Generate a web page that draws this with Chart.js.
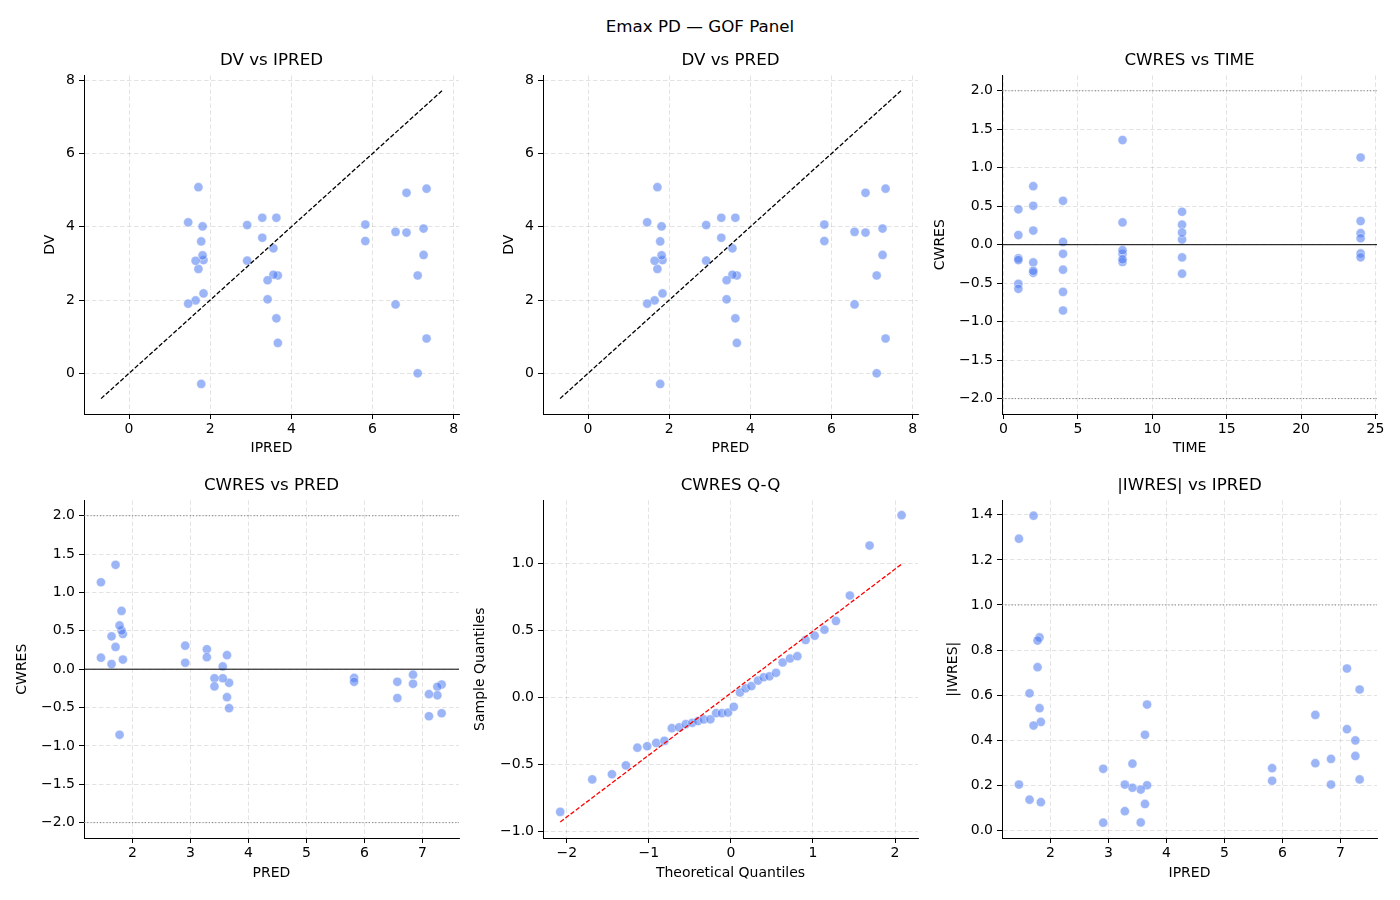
<!DOCTYPE html>
<html>
<head>
<meta charset="utf-8">
<script src="https://cdn.jsdelivr.net/npm/chart.js@4.4.1/dist/chart.umd.min.js"></script>
<style>
body { margin: 0; background: #fff; }
#fig { position: relative; width: 1400px; height: 900px; font-family: "DejaVu Sans", sans-serif; overflow: hidden; }
.ttl { position: absolute; font-size: 16.7px; white-space: nowrap; transform: translate(-50%, -50%); color: #000; }
canvas { position: absolute; }
</style>
</head>
<body>
<div id="fig"></div>
<script>
// observations: 3 dose groups x 6 times x 2 subjects
const TIME = [1,1, 2,2, 4,4, 8,8, 12,12, 24,24,
              1,1, 2,2, 4,4, 8,8, 12,12, 24,24,
              1,1, 2,2, 4,4, 8,8, 12,12, 24,24];
const PRED = [1.835,1.835, 1.812,1.812, 1.778,1.778, 1.709,1.709, 1.640,1.640, 1.457,1.457,
              3.666,3.666, 3.630,3.630, 3.557,3.557, 3.414,3.414, 3.283,3.283, 2.910,2.910,
              7.331,7.331, 7.257,7.257, 7.112,7.112, 6.837,6.837, 6.567,6.567, 5.822,5.822];
const IPRED = PRED.slice(); // IPRED sits on PRED in this plot
const DV = [3.09,2.18, 4.01,3.22, 3.60,-0.29, 5.08,2.85, 3.07,1.99, 4.12,1.90,
            2.67,0.83, 4.245,1.50, 3.41,2.69, 2.54,2.02, 4.245,3.70, 4.045,3.075,
            5.04,0.95, 3.95,3.23, 2.67,0.00, 4.925,3.84, 3.86,1.88, 4.06,3.61];
const CWRES = [0.46,0.125, 0.76,0.505, 0.57,-0.855, 1.36,0.29, 0.428,0.067, 1.133,0.15,
               -0.177,-0.508, 0.183,-0.365, 0.036,-0.118, -0.118,-0.224, 0.26,0.157, 0.307,0.084,
               -0.20,-0.574, -0.23,-0.34, -0.325,-0.613, -0.071,-0.19, -0.165,-0.376, -0.114,-0.164];
const IWRES_ABS = [0.481,0.125, 0.856,0.542, 0.724,0.842, 1.396,0.465, 0.608,0.136, 1.294,0.203,
                   0.200,0.558, 0.117,0.424, 0.035,0.181, 0.189,0.296, 0.203,0.085, 0.273,0.034,
                   0.226,0.625, 0.330,0.399, 0.449,0.718, 0.203,0.317, 0.298,0.512, 0.220,0.276];
const QQ_THEO = [-2.08,-1.69,-1.45,-1.28,-1.14,-1.02,-0.91,-0.81,-0.72,-0.63,-0.55,-0.47,
                 -0.40,-0.33,-0.25,-0.18,-0.11,-0.035,0.035,0.11,0.18,0.25,0.33,0.40,
                 0.47,0.55,0.63,0.72,0.81,0.91,1.02,1.14,1.28,1.45,1.69,2.08];
const IDENTITY = [-0.69, 7.71];

const TICKS_DV = [0, 2, 4, 6, 8];
const TICKS_TIME = [0, 5, 10, 15, 20, 25];
const TICKS_CWRES = [-2, -1.5, -1, -0.5, 0, 0.5, 1, 1.5, 2];
const TICKS_PRED = [2, 3, 4, 5, 6, 7];
const TICKS_QQX = [-2, -1, 0, 1, 2];
const TICKS_QQY = [-1, -0.5, 0, 0.5, 1];
const TICKS_IWRES = [0, 0.2, 0.4, 0.6, 0.8, 1, 1.2, 1.4];

Chart.defaults.font.family = '"DejaVu Sans", sans-serif';
Chart.defaults.font.size = 14;
Chart.defaults.color = '#000';

const fig = document.getElementById('fig');
const PT_FILL = 'rgba(75,120,240,0.55)';

function addTitle(text, x, y) {
    const d = document.createElement('div');
    d.className = 'ttl';
    d.textContent = text;
    d.style.left = x + 'px';
    d.style.top = y + 'px';
    fig.appendChild(d);
}

function fmt(v, dec) {
    return v.toFixed(dec).replace('-', '\u2212');
}

function axis(pos, lim, ticks, dec, label, size) {
    return {
        type: 'linear', position: pos, min: lim[0], max: lim[1],
        afterBuildTicks: s => { s.ticks = ticks.map(v => ({value: v})); },
        afterFit: s => { if (pos === 'left') s.width = size; else s.height = size; },
        ticks: { padding: pos === 'left' ? 4 : 2, autoSkip: false, maxRotation: 0,
                 callback: v => fmt(v, dec) },
        grid: { color: 'rgba(0,0,0,0.14)', lineWidth: 0.8, tickLength: 5,
                tickColor: '#000', tickWidth: 1, tickBorderDash: [] },
        border: { color: '#000', width: 1, dash: [4.5, 2.5] },
        title: { display: true, text: label, padding: 0, font: {size: 14} }
    };
}

function refLine(pts, color, width, dash) {
    return { data: pts, showLine: true, borderColor: color, borderWidth: width,
             borderDash: dash, pointRadius: 0, pointHoverRadius: 0, fill: false, order: 0 };
}

function panel(p) {
    const yw = p.yw, xh = p.xh, pt = 10, pr = 12;
    const c = document.createElement('canvas');
    c.width = yw + p.w + pr;
    c.height = pt + p.h + xh;
    c.style.left = (p.left - yw) + 'px';
    c.style.top = (p.top - pt) + 'px';
    fig.appendChild(c);
    addTitle(p.title, p.left + p.w / 2, p.top - 14.5);

    const sets = p.lines.slice();
    sets.push({ data: p.xs.map((x, i) => ({x: x, y: p.ys[i]})), backgroundColor: PT_FILL,
                borderColor: 'rgba(255,255,255,0.9)', borderWidth: 0.5,
                pointRadius: 4.6, pointHoverRadius: 4.6, order: 1 });

    new Chart(c, {
        type: 'scatter',
        data: { datasets: sets },
        options: {
            responsive: false, animation: false, events: [],
            layout: { padding: { top: pt, right: pr, left: 0, bottom: 0 } },
            plugins: { legend: { display: false }, tooltip: { enabled: false } },
            scales: {
                x: axis('bottom', p.xlim, p.xticks, p.xdec, p.xlabel, xh),
                y: axis('left', p.ylim, p.yticks, p.ydec, p.ylabel, yw)
            }
        }
    });
}

// Q-Q reference line: least squares fit of sorted CWRES on theoretical quantiles
const qqSample = CWRES.slice().sort((a, b) => a - b);
const mx = QQ_THEO.reduce((a, b) => a + b, 0) / QQ_THEO.length;
const my = qqSample.reduce((a, b) => a + b, 0) / qqSample.length;
let sxy = 0, sxx = 0;
QQ_THEO.forEach((x, i) => { sxy += (x - mx) * (qqSample[i] - my); sxx += (x - mx) * (x - mx); });
const qqSlope = sxy / sxx, qqInt = my - qqSlope * mx;
const qqEnds = [QQ_THEO[0], QQ_THEO[QQ_THEO.length - 1]];

const LIM_DV = [-1.11, 8.13];
const LIM_TIME = [-0.1, 25.1];
const LIM_CW = [-2.2, 2.2];
const LIM_PRED = [1.165, 7.63];
const LIM_QQX = [-2.29, 2.28];
const LIM_QQY = [-1.05, 1.47];
const LIM_IW = [-0.034, 1.464];

function identityLine() {
    return refLine(IDENTITY.map(v => ({x: v, y: v})), '#000', 1.3, [4.5, 2]);
}
function hline(lim, y, color, width, dash) {
    return refLine([{x: lim[0], y: y}, {x: lim[1], y: y}], color, width, dash);
}

addTitle('Emax PD \u2014 GOF Panel', 700, 25.5);

panel({ title: 'DV vs IPRED', left: 84, top: 73, w: 375, h: 341, yw: 42, xh: 43,
        xs: IPRED, ys: DV, xlim: LIM_DV, ylim: LIM_DV, xticks: TICKS_DV, yticks: TICKS_DV,
        xdec: 0, ydec: 0, xlabel: 'IPRED', ylabel: 'DV', lines: [identityLine()] });
panel({ title: 'DV vs PRED', left: 543, top: 73, w: 375, h: 341, yw: 42, xh: 43,
        xs: PRED, ys: DV, xlim: LIM_DV, ylim: LIM_DV, xticks: TICKS_DV, yticks: TICKS_DV,
        xdec: 0, ydec: 0, xlabel: 'PRED', ylabel: 'DV', lines: [identityLine()] });
panel({ title: 'CWRES vs TIME', left: 1002, top: 73, w: 375, h: 341, yw: 70, xh: 43,
        xs: TIME, ys: CWRES, xlim: LIM_TIME, ylim: LIM_CW, xticks: TICKS_TIME, yticks: TICKS_CWRES,
        xdec: 0, ydec: 1, xlabel: 'TIME', ylabel: 'CWRES',
        lines: [hline(LIM_TIME, 0, '#000', 1, []),
                hline(LIM_TIME, 2, '#808080', 1, [1.2, 2]),
                hline(LIM_TIME, -2, '#808080', 1, [1.2, 2])] });
panel({ title: 'CWRES vs PRED', left: 84, top: 498, w: 375, h: 340, yw: 70, xh: 44,
        xs: PRED, ys: CWRES, xlim: LIM_PRED, ylim: LIM_CW, xticks: TICKS_PRED, yticks: TICKS_CWRES,
        xdec: 0, ydec: 1, xlabel: 'PRED', ylabel: 'CWRES',
        lines: [hline(LIM_PRED, 0, '#000', 1, []),
                hline(LIM_PRED, 2, '#808080', 1, [1.2, 2]),
                hline(LIM_PRED, -2, '#808080', 1, [1.2, 2])] });
panel({ title: 'CWRES Q-Q', left: 543, top: 498, w: 375, h: 340, yw: 71, xh: 44,
        xs: QQ_THEO, ys: qqSample, xlim: LIM_QQX, ylim: LIM_QQY, xticks: TICKS_QQX, yticks: TICKS_QQY,
        xdec: 0, ydec: 1, xlabel: 'Theoretical Quantiles', ylabel: 'Sample Quantiles',
        lines: [refLine(qqEnds.map(x => ({x: x, y: qqInt + qqSlope * x})), '#ff0000', 1.3, [4.5, 2])] });
panel({ title: '|IWRES| vs IPRED', left: 1002, top: 498, w: 375, h: 340, yw: 57, xh: 44,
        xs: IPRED, ys: IWRES_ABS, xlim: LIM_PRED, ylim: LIM_IW, xticks: TICKS_PRED, yticks: TICKS_IWRES,
        xdec: 0, ydec: 1, xlabel: 'IPRED', ylabel: '|IWRES|',
        lines: [hline(LIM_PRED, 1, '#808080', 1, [1.2, 2])] });
</script>
</body>
</html>
